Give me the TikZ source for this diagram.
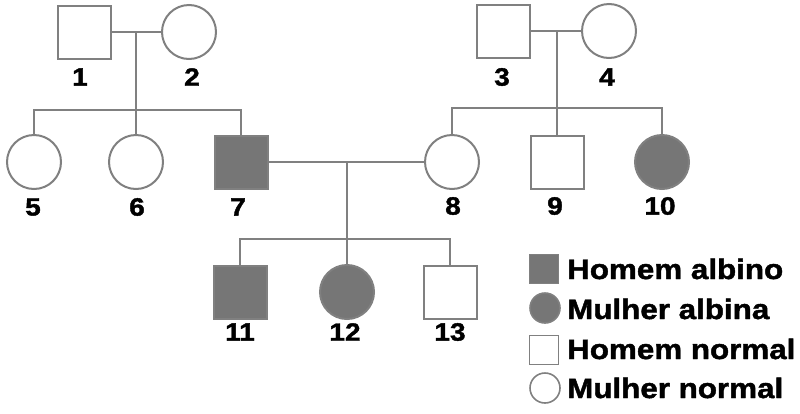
\documentclass[tikz,border=0pt]{standalone}
\usepackage{fontspec}
\setmainfont{Liberation Sans}[FakeStretch=1.12,BoldFeatures={FakeBold=1.6}]
\usetikzlibrary{positioning}
\definecolor{linegray}{RGB}{128,128,128}
\definecolor{fillgray}{RGB}{118,118,118}

\tikzset{
  male/.style={rectangle,draw=linegray,line width=2pt,minimum size=53pt,inner sep=0pt},
  female/.style={circle,draw=linegray,line width=2pt,minimum size=54pt,inner sep=0pt},
  ill/.style={fill=fillgray},
  num/.style={font=\bfseries\fontsize{25}{25}\selectfont},
  key/.style={font=\bfseries\fontsize{28}{28}\selectfont,anchor=west,inner sep=0pt},
  kmale/.style={male,line width=1.6pt,minimum size=29pt},
  kfemale/.style={female,line width=1.6pt,minimum size=30pt},
  link/.style={draw=linegray,line width=2pt}
}

\begin{document}
\begin{tikzpicture}[x=1pt,y=-1pt]
\useasboundingbox (0,0) rectangle (800,413);

% generation I
\node[male] (p1) at (84,32) {};
\node[female] (p2) at (189,32) {};
\node[male] (p3) at (503,31) {};
\node[female] (p4) at (609,31) {};
\node[num] (l1) at (80,77) {1};
\node[num] (l2) at (192,77) {2};
\node[num] (l3) at (502,77) {3};
\node[num] (l4) at (607,77) {4};

% generation II
\node[female] (p5) at (34,162) {};
\node[female] (p6) at (136,162) {};
\node[male,ill] (p7) at (241,162) {};
\node[female] (p8) at (452,162) {};
\node[male] (p9) at (557,162) {};
\node[female,ill] (p10) at (662,162) {};
\node[num] (l5) at (33,207) {5};
\node[num] (l6) at (137,207) {6};
\node[num] (l7) at (238,207) {7};
\node[num] (l8) at (453,206) {8};
\node[num] (l9) at (555,206) {9};
\node[num] (l10) at (660,206) {10};

% generation III
\node[male,ill] (p11) at (240,292) {};
\node[female,ill] (p12) at (347,292) {};
\node[male] (p13) at (450,292) {};
\node[num] (l11) at (240,332) {11};
\node[num] (l12) at (345,332) {12};
\node[num] (l13) at (450,332) {13};

% couples and sibships
\coordinate (c12) at (136,32);
\coordinate (s12) at (136,110);
\coordinate (c34) at (557,31);
\coordinate (s34) at (557,108);
\coordinate (c78) at (347,162);
\coordinate (s78) at (347,239);

\draw[link] (p1.east) -- (p2.west);
\draw[link] (c12) -- (s12);
\draw[link] (p5.north) |- (s12) -| (p7.north);
\draw[link] (s12) -- (p6.north);

\draw[link] (p3.east) -- (p4.west);
\draw[link] (c34) -- (s34);
\draw[link] (p8.north) |- (s34) -| (p10.north);
\draw[link] (s34) -- (p9.north);

\draw[link] (p7.east) -- (p8.west);
\draw[link] (c78) -- (s78);
\draw[link] (p11.north) |- (s78) -| (p13.north);
\draw[link] (s78) -- (p12.north);

% legend
\node[kmale,ill] (k1) at (544,269) {};
\node[kfemale,ill] (k2) at (545,308) {};
\node[kmale] (k3) at (544,350) {};
\node[kfemale] (k4) at (545,388) {};
\node[key] (t1) at (567,269) {Homem albino};
\node[key] (t2) at (567,309) {Mulher albina};
\node[key] (t3) at (567,349) {Homem normal};
\node[key] (t4) at (567,388) {Mulher normal};
\end{tikzpicture}
\end{document}
